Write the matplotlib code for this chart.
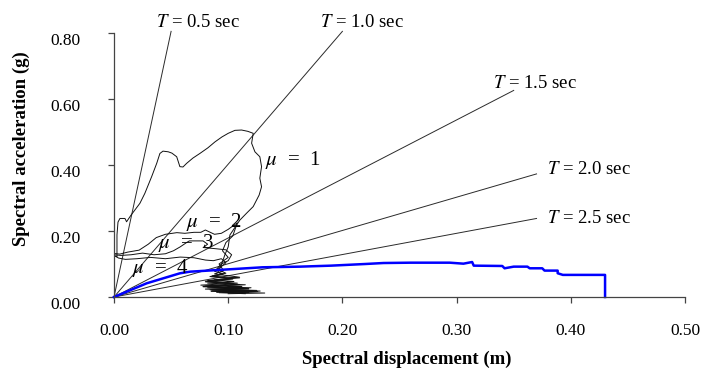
import matplotlib
matplotlib.use('Agg')
import matplotlib.pyplot as plt
import matplotlib.transforms as mtransforms

plt.rcParams['font.family'] = ['Liberation Serif', 'DejaVu Serif']
plt.rcParams['mathtext.fontset'] = 'stix'

# constant-period lines: end points (Sd [m], Sa [g])
period_labels = ['0.5', '1.0', '1.5', '2.0', '2.5']
period_end_sd = [0.050, 0.200, 0.350, 0.370, 0.370]
period_end_sa = [0.805, 0.805, 0.626, 0.373, 0.238]
period_label_xy = [(0.037, 0.833), (0.180, 0.833), (0.332, 0.648), (0.379, 0.385), (0.379, 0.239)]

# demand spectra for ductility mu = 1..4
mu1_sd = [0.0, 0.0026, 0.0026, 0.0035, 0.0052, 0.0096, 0.011, 0.0149, 0.0227, 0.027, 0.033, 0.0374,
          0.0402, 0.0429, 0.0475, 0.0507, 0.0549, 0.0577, 0.0604, 0.0636, 0.0691, 0.0752, 0.0822,
          0.0884, 0.0945, 0.1, 0.1059, 0.1117, 0.1172, 0.1219, 0.1205, 0.1234, 0.1277, 0.1292,
          0.1277, 0.1292, 0.1271, 0.1219, 0.1161, 0.1102, 0.1044, 0.1015, 0.100, 0.097, 0.094,
          0.091, 0.095, 0.085, 0.110, 0.088, 0.105, 0.082, 0.115, 0.078, 0.120, 0.080, 0.125,
          0.085, 0.118]
mu1_sa = [0.125, 0.122, 0.188, 0.227, 0.238, 0.238, 0.228, 0.248, 0.284, 0.314, 0.365, 0.405,
          0.435, 0.442, 0.440, 0.436, 0.425, 0.395, 0.394, 0.405, 0.421, 0.435, 0.452,
          0.470, 0.485, 0.496, 0.505, 0.506, 0.502, 0.496, 0.466, 0.440, 0.425, 0.395,
          0.360, 0.334, 0.309, 0.274, 0.254, 0.233, 0.203, 0.188, 0.152, 0.127, 0.097,
          0.075, 0.068, 0.062, 0.058, 0.052, 0.047, 0.042, 0.037, 0.032, 0.028, 0.024, 0.020,
          0.017, 0.014]

mu2_sd = [0.0, 0.005, 0.012, 0.022, 0.030, 0.037, 0.045, 0.055, 0.062, 0.070, 0.076, 0.080,
          0.088, 0.094, 0.100, 0.104, 0.108, 0.104, 0.098, 0.095, 0.100, 0.092, 0.096, 0.088,
          0.110, 0.082, 0.105, 0.080, 0.112, 0.084, 0.122, 0.090]
mu2_sa = [0.132, 0.130, 0.136, 0.142, 0.160, 0.180, 0.190, 0.195, 0.193, 0.196, 0.196, 0.203,
          0.190, 0.193, 0.205, 0.215, 0.225, 0.185, 0.165, 0.140, 0.120, 0.100, 0.080, 0.070,
          0.060, 0.050, 0.040, 0.033, 0.026, 0.022, 0.018, 0.014]

mu3_sd = [0.0, 0.006, 0.015, 0.025, 0.035, 0.045, 0.052, 0.058, 0.064, 0.066, 0.078, 0.082,
          0.078, 0.090, 0.098, 0.103, 0.100, 0.094, 0.090, 0.098, 0.086, 0.104, 0.080, 0.110,
          0.078, 0.118, 0.085, 0.126, 0.092, 0.115]
mu3_sa = [0.128, 0.126, 0.128, 0.133, 0.128, 0.131, 0.140, 0.152, 0.166, 0.170, 0.170, 0.160,
          0.150, 0.146, 0.143, 0.128, 0.110, 0.100, 0.085, 0.072, 0.064, 0.055, 0.046, 0.038,
          0.031, 0.026, 0.021, 0.017, 0.013, 0.010]

mu4_sd = [0.0, 0.004, 0.010, 0.020, 0.032, 0.045, 0.058, 0.070, 0.080, 0.087, 0.094, 0.098,
          0.094, 0.088, 0.096, 0.084, 0.104, 0.080, 0.108, 0.076, 0.112, 0.082, 0.118, 0.086,
          0.128, 0.095, 0.132, 0.100]
mu4_sa = [0.126, 0.118, 0.114, 0.116, 0.120, 0.116, 0.121, 0.119, 0.112, 0.110, 0.116, 0.104,
          0.092, 0.078, 0.070, 0.062, 0.055, 0.048, 0.042, 0.036, 0.032, 0.028, 0.024, 0.021,
          0.018, 0.015, 0.012, 0.010]

mu_labels = ['1', '2', '3', '4']
mu_label_xy = [(0.132, 0.415), (0.063, 0.228), (0.0385, 0.164), (0.0157, 0.088)]

# capacity curve
cap_sd = [0.0, 0.0286, 0.0577, 0.0665, 0.1015, 0.130, 0.163, 0.190, 0.220, 0.236, 0.260, 0.294,
          0.306, 0.3136, 0.315, 0.340, 0.342, 0.350, 0.362, 0.364, 0.375, 0.377, 0.3885, 0.3885,
          0.393, 0.430, 0.430]
cap_sa = [0.0, 0.0415, 0.0718, 0.0767, 0.084, 0.090, 0.092, 0.095, 0.100, 0.103, 0.104, 0.104,
          0.101, 0.106, 0.095, 0.094, 0.087, 0.092, 0.092, 0.087, 0.087, 0.080, 0.080, 0.072,
          0.067, 0.067, 0.0]

fig = plt.figure(figsize=(7.01, 3.69), dpi=100)
ax = fig.add_axes([114/701, 1 - 297/369, 571/701, 264/369])

for sd, sa, lab, (tx, ty) in zip(period_end_sd, period_end_sa, period_labels, period_label_xy):
    ax.plot([0.0, sd], [0.0, sa], color='#2a2a2a', lw=0.7, clip_on=False)
    ax.text(tx, ty, r'$T$ = ' + lab + ' sec', fontsize=13.5, ha='left', va='center', clip_on=False)

for sd, sa in [(mu1_sd, mu1_sa), (mu2_sd, mu2_sa), (mu3_sd, mu3_sa), (mu4_sd, mu4_sa)]:
    ax.plot(sd, sa, color='#111111', lw=0.7)

for lab, (tx, ty) in zip(mu_labels, mu_label_xy):
    ax.text(tx, ty, r'$\mu$  =  ' + lab, fontsize=15, ha='left', va='center')

ax.plot(cap_sd, cap_sa, color='#0000ff', lw=1.8, clip_on=False)

ax.set_xlim(0, 0.5)
ax.set_ylim(0, 0.8)
ax.set_xticks([0.0, 0.1, 0.2, 0.3, 0.4, 0.5])
ax.set_yticks([0.0, 0.2, 0.4, 0.6, 0.8])
ax.xaxis.set_major_formatter(matplotlib.ticker.FormatStrFormatter('%.2f'))
ax.yaxis.set_major_formatter(matplotlib.ticker.FormatStrFormatter('%.2f'))
ax.spines['top'].set_visible(False)
ax.spines['right'].set_visible(False)
for s in ['left', 'bottom']:
    ax.spines[s].set_color('#444444')
    ax.spines[s].set_linewidth(0.9)
ax.tick_params(direction='out', length=4, width=0.9, color='#444444', labelsize=12.5)
ax.tick_params(axis='x', pad=15)
ax.tick_params(axis='y', pad=20)
offset = mtransforms.ScaledTranslation(0, -6/100, fig.dpi_scale_trans)
for lbl in ax.get_yticklabels():
    lbl.set_transform(lbl.get_transform() + offset)

fig.text(407/701, 1 - 359/369, 'Spectral displacement (m)', fontsize=13.5, fontweight='bold',
         ha='center', va='center')
fig.text(21.7/701, 1 - 148.5/369, 'Spectral acceleration (g)', fontsize=13.5, fontweight='bold',
         ha='center', va='center', rotation=90)

fig.savefig('out.png', dpi=100)
